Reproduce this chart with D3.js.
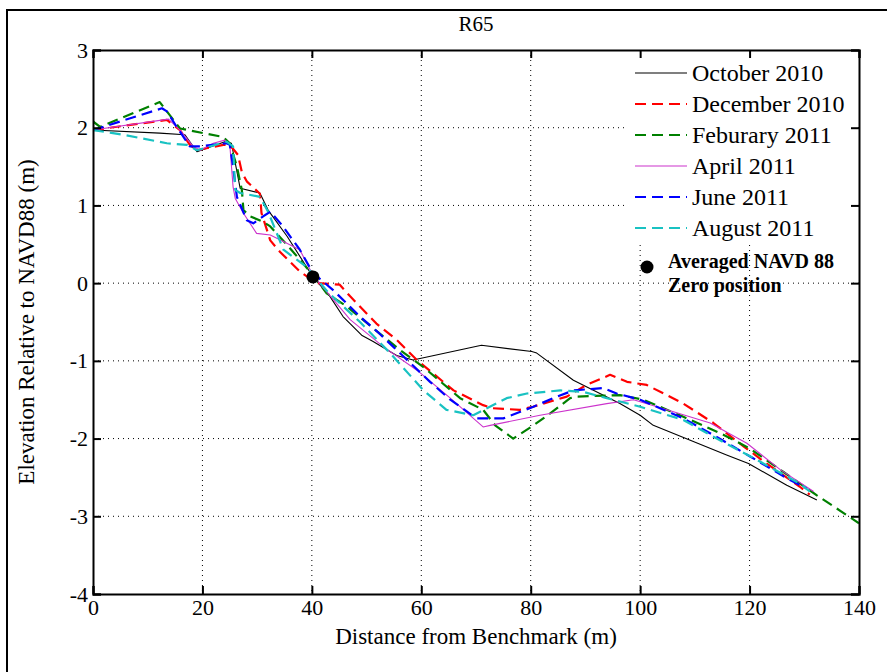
<!DOCTYPE html>
<html><head><meta charset="utf-8">
<script src="https://cdn.jsdelivr.net/npm/d3@7"></script>
<style>body{margin:0;background:#fff}svg{display:block}svg text{font-family:"Liberation Serif","Times New Roman",Times,serif !important;fill:#000}</style>
</head><body>
<svg id="c" width="887" height="672" style="font-family:'Liberation Serif',serif"></svg>
<script>
const title = "R65";
const xLabel = "Distance from Benchmark (m)";
const yLabel = "Elevation Relative to NAVD88 (m)";
const xTicks = [0,20,40,60,80,100,120,140];
const yTicks = [-4,-3,-2,-1,0,1,2,3];

const seriesNames = ["October 2010","December 2010","Feburary 2011","April 2011","June 2011","August 2011"];

const octX = [0,12.2,16.8,19,24.1,25.3,26.9,30.5,32,35.5,40.2,43.3,45.7,49.1,51.2,55.5,58.5,71,80.2,81.1,87.8,96.3,100,102.4,115.8,119.8,126.8,132.3];
const octY = [1.97,1.93,1.91,1.69,1.82,1.80,1.22,1.16,0.94,0.6,0.08,-0.17,-0.43,-0.67,-0.75,-0.93,-0.99,-0.80,-0.88,-0.90,-1.25,-1.55,-1.70,-1.83,-2.21,-2.32,-2.60,-2.79];

const decX = [0,13.5,15.9,17.7,19,23.8,25,26.5,27.2,28.1,30.5,30.8,32.4,34.2,37.8,40.9,45.1,47,51.8,55.5,59.2,65.9,71.3,73.1,78,80.4,86.6,90.2,94.5,97.6,101.2,107.9,113.4,118.9,123.1,129.2,131];
const decY = [1.97,2.10,1.97,1.78,1.71,1.78,1.78,1.65,1.43,1.31,1.15,0.9,0.55,0.40,0.15,0.0,-0.02,-0.17,-0.52,-0.73,-0.99,-1.38,-1.57,-1.61,-1.63,-1.59,-1.46,-1.31,-1.18,-1.27,-1.31,-1.55,-1.80,-2.10,-2.32,-2.62,-2.72];

const febX = [0,1.3,12.2,13.5,15.9,20.2,23.8,25,26.3,27.2,27.5,28.7,31.1,32.4,36,40,42.7,46.4,51.9,56.1,60.4,67.1,71.3,73.5,76.8,80.5,83.5,87.2,88.4,96.3,100.6,107.9,115.2,120.1,126.2,132.3,140];
const febY = [2.08,2.01,2.33,2.21,1.99,1.93,1.88,1.80,1.50,1.20,0.94,0.86,0.79,0.73,0.45,0.12,-0.13,-0.30,-0.62,-0.86,-1.08,-1.48,-1.63,-1.83,-2.0,-1.83,-1.68,-1.48,-1.46,-1.44,-1.50,-1.72,-1.95,-2.13,-2.43,-2.73,-3.09];

const aprX = [0,13.8,15.9,18.3,19.6,22,24.1,25,25.6,26,27.5,29.9,32.4,37.8,40.2,47,53.1,59.2,65.3,71.3,72.6,81.7,93.9,98.8,104.9,112.8,119.5,125.6,131.7];
const aprY = [1.97,2.11,1.97,1.76,1.71,1.80,1.84,1.78,1.24,1.09,0.90,0.64,0.62,0.43,0.10,-0.47,-0.82,-1.12,-1.48,-1.85,-1.83,-1.70,-1.55,-1.50,-1.63,-1.80,-2.06,-2.40,-2.68];

const junX = [0,12.6,13.5,15.3,17.7,19.6,24.4,25,25.6,26.3,28.1,29.3,31.1,32.4,34.5,37.8,40.2,43.9,48.8,51.9,54.9,61.6,65.3,70.1,75,80.5,84.1,87.8,93.3,95.7,100,107.9,114,120.1,126.8,130.4];
const junY = [1.97,2.25,2.21,2.01,1.76,1.76,1.80,1.78,1.50,1.11,0.81,0.77,0.86,0.92,0.75,0.43,0.13,-0.09,-0.43,-0.62,-0.82,-1.27,-1.50,-1.74,-1.74,-1.59,-1.48,-1.38,-1.35,-1.42,-1.50,-1.74,-1.98,-2.23,-2.51,-2.64];

const augX = [0,5.5,13.5,17.1,19,24.4,25.6,26,26.9,30.5,32,34.8,39,43,48.8,54.3,60.4,64.6,69.5,75.6,79.3,85.4,89.6,93.9,100,107.9,114,120.7,129.2,131];
const augY = [1.97,1.91,1.80,1.78,1.71,1.82,1.76,1.20,1.16,1.11,0.92,0.43,0.21,-0.12,-0.50,-0.90,-1.38,-1.63,-1.70,-1.48,-1.42,-1.38,-1.40,-1.48,-1.59,-1.76,-2.00,-2.25,-2.58,-2.68];

const zeroPointX = [40.2];
const zeroPointY = [0.08];
const zeroLabel = ["Averaged NAVD 88","Zero position"];

const seriesX = [octX,decX,febX,aprX,junX,augX];
const seriesY = [octY,decY,febY,aprY,junY,augY];
const colors = ["#000000","#ff0000","#008000","#cc33cc","#0000ff","#19c2c2"];
const dashed = [false,true,true,false,true,true];

const FONT = "'Liberation Serif', 'Times New Roman', serif";
const svg = d3.select("#c");
const L=93,R=859,T=50,B=594;
const x = d3.scaleLinear().domain([0,140]).range([L,R]);
const y = d3.scaleLinear().domain([-4,3]).range([B,T]);

// outer frame
svg.append("path").attr("d","M7,672 L7,10 L887,10").attr("fill","none").attr("stroke","#000").attr("stroke-width",2);

// title
svg.append("text").attr("x",476).attr("y",31).attr("text-anchor","middle").attr("font-size",21).attr("font-family",FONT).text(title);

// grid
const grid = svg.append("g");
xTicks.filter(t=>t>0&&t<140).forEach(t=>{
  grid.append("line").attr("x1",x(t)).attr("x2",x(t)).attr("y1",T).attr("y2",B)
   .attr("stroke","#000").attr("stroke-width",1).attr("stroke-dasharray","1,4");
});
yTicks.filter(t=>t>-4&&t<3).forEach(t=>{
  grid.append("line").attr("x1",L).attr("x2",R).attr("y1",y(t)).attr("y2",y(t))
   .attr("stroke","#000").attr("stroke-width",1).attr("stroke-dasharray","1,4");
});

// lines
svg.append("defs").append("clipPath").attr("id","pc").append("rect").attr("x",L).attr("y",T).attr("width",R-L).attr("height",B-T);
const lineGen = d3.line().x(d=>x(d[0])).y(d=>y(d[1]));
const plot = svg.append("g").attr("clip-path","url(#pc)");
seriesX.forEach((xs,i)=>{
  const pts = xs.map((v,j)=>[v,seriesY[i][j]]);
  plot.append("path").datum(pts).attr("d",lineGen).attr("fill","none")
    .attr("stroke",colors[i]).attr("stroke-width",dashed[i]?2.2:1.1)
    .attr("stroke-dasharray",dashed[i]?"11,6":null).attr("stroke-linejoin","round");
});
plot.selectAll("circle.z").data(zeroPointX).enter().append("circle")
  .attr("cx",d=>x(d)).attr("cy",(d,i)=>y(zeroPointY[i])).attr("r",6.5).attr("fill","#000");

// legend
const lg = svg.append("g");
lg.append("rect").attr("x",626).attr("y",T+1).attr("width",R-626-1).attr("height",191).attr("fill","#fff");
const rowY = [73,104,135,166,197,228];
seriesNames.forEach((n,i)=>{
  lg.append("line").attr("x1",635).attr("x2",687).attr("y1",rowY[i]).attr("y2",rowY[i])
    .attr("stroke",colors[i]).attr("stroke-width",dashed[i]?2.2:1.1)
    .attr("stroke-dasharray",dashed[i]?"11,6":null);
  lg.append("text").attr("x",692).attr("y",rowY[i]+8).attr("font-size",24).attr("font-family",FONT).text(n);
});
lg.append("circle").attr("cx",647).attr("cy",267).attr("r",6.5).attr("fill","#000");
lg.append("text").attr("x",668).attr("y",268).attr("font-size",20).attr("font-weight","bold").attr("font-family",FONT).text(zeroLabel[0]);
lg.append("text").attr("x",668).attr("y",292).attr("font-size",20).attr("font-weight","bold").attr("font-family",FONT).text(zeroLabel[1]);

// axes
const fmt = d => String(d);
const gB = svg.append("g").attr("transform",`translate(0,${B})`).call(d3.axisBottom(x).tickValues(xTicks).tickSize(-8).tickPadding(4).tickFormat(fmt));
const gT = svg.append("g").attr("transform",`translate(0,${T})`).call(d3.axisTop(x).tickValues(xTicks).tickSize(-8).tickFormat(""));
const gL = svg.append("g").attr("transform",`translate(${L},0)`).call(d3.axisLeft(y).tickValues(yTicks).tickSize(-8).tickPadding(5).tickFormat(fmt));
const gR = svg.append("g").attr("transform",`translate(${R},0)`).call(d3.axisRight(y).tickValues(yTicks).tickSize(-8).tickFormat(""));
[gB,gT,gL,gR].forEach(g=>{
  g.attr("font-family",FONT).attr("font-size",22);
  g.select(".domain").attr("stroke","#000").attr("stroke-width",2);
  g.selectAll(".tick line").attr("stroke","#000").attr("stroke-width",2);
  g.selectAll("text").attr("fill","#000").attr("font-family",FONT).attr("font-size",22);
});
gB.selectAll("text").attr("dy","0.75em");

// axis labels
svg.append("text").attr("x",476).attr("y",644).attr("text-anchor","middle").attr("font-size",23).attr("font-family",FONT).text(xLabel);
svg.append("text").attr("transform","translate(34,322) rotate(-90)").attr("text-anchor","middle").attr("font-size",23).attr("font-family",FONT).text(yLabel);
</script>
</body></html>
